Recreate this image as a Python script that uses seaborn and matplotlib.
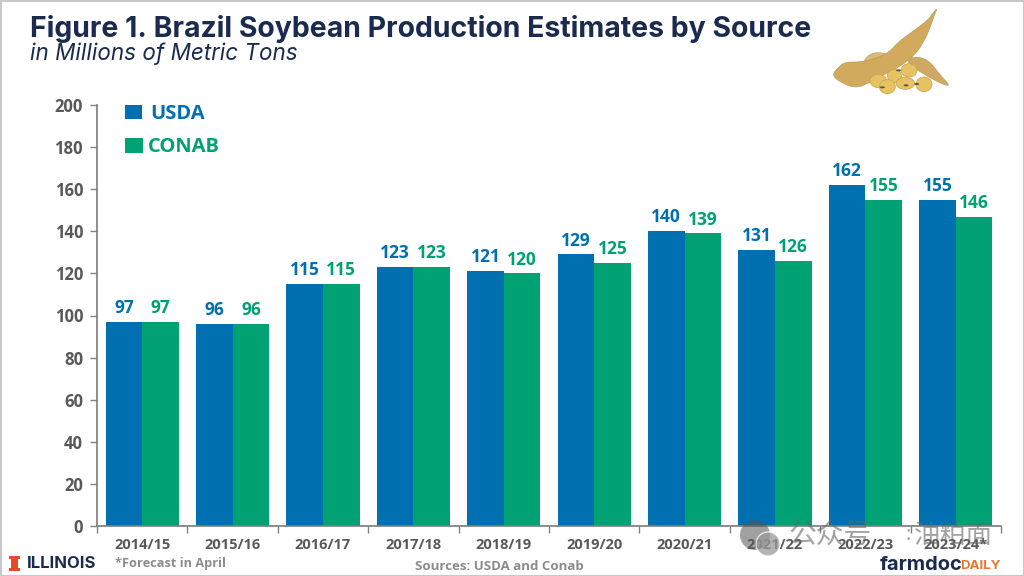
import matplotlib
matplotlib.use("Agg")
import matplotlib.pyplot as plt
from matplotlib.patches import PathPatch, Ellipse, Rectangle, Circle
from matplotlib.path import Path
import pandas as pd
import seaborn as sns

years = ["2014/15", "2015/16", "2016/17", "2017/18", "2018/19",
         "2019/20", "2020/21", "2021/22", "2022/23", "2023/24*"]
usda = [97, 96, 115, 123, 121, 129, 140, 131, 162, 155]
conab = [97, 96, 115, 123, 120, 125, 139, 126, 155, 147]
# printed labels, the last green bar is drawn a bit taller than its label
usda_labels = ["97", "96", "115", "123", "121", "129", "140", "131", "162", "155"]
conab_labels = ["97", "96", "115", "123", "120", "125", "139", "126", "155", "146"]
y_ticks = [0, 20, 40, 60, 80, 100, 120, 140, 160, 180, 200]

BLUE = "#0070b0"
GREEN = "#00a173"
NAVY = "#1a2b4f"
GREY = "#595959"

sns.set_theme(style="white")
plt.rcParams["font.family"] = ["Open Sans", "DejaVu Sans"]

df = pd.DataFrame({
    "year": years * 2,
    "value": usda + conab,
    "source": ["USDA"] * len(years) + ["CONAB"] * len(years),
})

fig = plt.figure(figsize=(10.24, 5.76), dpi=100)
ax = fig.add_axes([97 / 1024, 50 / 576, 904 / 1024, 421 / 576])

sns.barplot(data=df, x="year", y="value", hue="source", palette=[BLUE, GREEN],
            width=0.81, gap=0, saturation=1, legend=False, linewidth=0, ax=ax)

ax.bar_label(ax.containers[0], labels=usda_labels, color=BLUE, fontsize=12.5,
             fontweight="bold", padding=3.5)
ax.bar_label(ax.containers[1], labels=conab_labels, color=GREEN, fontsize=12.5,
             fontweight="bold", padding=3.5)

ax.set_xlim(-0.5, 9.5)
ax.set_ylim(0, 200)
ax.set_xlabel("")
ax.set_ylabel("")
ax.set_yticks(y_ticks)
ax.set_xticks([i - 0.5 for i in range(11)], [""] * 11)
ax.set_xticks(range(10), years, minor=True)
ax.tick_params(axis="x", which="major", bottom=True, length=5, width=1, color="#808080")
ax.tick_params(axis="x", which="minor", bottom=False, labelsize=10.5, labelcolor=GREY, pad=4.5)
ax.tick_params(axis="y", left=True, length=5, width=1, color="#808080",
               labelsize=12, labelcolor=GREY, pad=5)
for t in ax.get_xticklabels(minor=True) + ax.get_yticklabels():
    t.set_fontweight("bold")
sns.despine(ax=ax)
ax.spines["left"].set_color("#808080")
ax.spines["bottom"].set_color("#808080")

# overlay in pixel coordinates for the slide furniture
over = fig.add_axes([0, 0, 1, 1], zorder=5)
over.set_xlim(0, 1024)
over.set_ylim(576, 0)
over.axis("off")
over.patch.set_alpha(0)

over.add_patch(Rectangle((0.5, 0.5), 1023, 575, fill=False, ec="#c8c8c8", lw=1.5))

over.text(30, 29, "Figure 1. Brazil Soybean Production Estimates by Source", fontsize=20.45,
          fontweight="bold", color=NAVY, family="Inter", va="center")
over.text(30, 54, "in Millions of Metric Tons", fontsize=16.2, style="italic",
          color=NAVY, family="Inter", va="center")

# legend
over.add_patch(Rectangle((125, 105), 17, 14, color=BLUE, lw=0))
over.text(150, 114, "USDA", color=BLUE, fontsize=14.5, fontweight="bold", va="center")
over.add_patch(Rectangle((125, 138), 18, 15, color=GREEN, lw=0))
over.text(148, 147, "CONAB", color=GREEN, fontsize=14.5, fontweight="bold", va="center")

def zx(x):
    return 800 + x / 3

def zy(y):
    return y / 3

def pod(points, color, z=6):
    pts = [(zx(x), zy(y)) for x, y in points]
    n = len(pts)
    mids = [((pts[i][0] + pts[(i + 1) % n][0]) / 2, (pts[i][1] + pts[(i + 1) % n][1]) / 2)
            for i in range(n)]
    verts = [mids[-1]]
    codes = [Path.MOVETO]
    for i in range(n):
        verts += [pts[i], mids[i]]
        codes += [Path.CURVE3, Path.CURVE3]
    over.add_patch(PathPatch(Path(verts, codes), fc=color, ec="#b8924a", lw=0.4, zorder=z))

pod([(335, 168), (385, 178), (420, 225), (455, 262), (410, 245), (360, 215), (320, 190)], "#cfa863")
pod([(185, 190), (212, 158), (255, 158), (272, 178), (210, 198)], "#dcbb78")
pod([(414, 22), (396, 42), (385, 60), (330, 100), (290, 130), (270, 155), (230, 175), (180, 187),
     (135, 185), (112, 205), (95, 227), (130, 252), (170, 264), (205, 250), (250, 225),
     (300, 200), (345, 165), (375, 120), (395, 70), (404, 42)], "#d2aa5e", 7)
beans = [(283, 228, 42, 40), (327, 211, 48, 40), (235, 243, 50, 40),
         (262, 260, 48, 42), (316, 250, 56, 36), (372, 253, 48, 44)]
for bx, by, bw, bh in beans:
    over.add_patch(Ellipse((zx(bx), zy(by)), bw / 3, bh / 3, fc="#e6c262",
                           ec="#c9a047", lw=0.5, zorder=8))
for bx, by in [(247, 262), (318, 256), (350, 252), (296, 211)]:
    over.add_patch(Ellipse((zx(bx), zy(by)), 5, 2, fc="#5a5245", lw=0, zorder=8.5))

# footer
over.add_patch(Rectangle((11, 557), 7, 14, color="#e84a27", lw=0))
over.add_patch(Rectangle((9, 556), 11, 3, color="#e84a27", lw=0))
over.add_patch(Rectangle((9, 568), 11, 3, color="#e84a27", lw=0))
over.text(27, 563.5, "ILLINOIS", color=NAVY, fontsize=12, fontweight="bold",
          family="Inter", va="center")
over.text(115, 563, "*Forecast in April", color="#8c8c8c", fontsize=9.2,
          fontweight="bold", va="center")
over.text(499, 567, "Sources: USDA and Conab", color="#8c8c8c", fontsize=9.5,
          fontweight="bold", ha="center", va="center")
over.text(880, 565, "farmdoc", color=NAVY, fontsize=14.5, fontweight="bold",
          family="Inter", va="center")
over.text(960, 566, "DAILY", color="#e8772e", fontsize=9.5, fontweight="bold",
          family="Inter", va="center")

# watermark
over.add_patch(Circle((755, 535), 15, fc="#555555", alpha=0.55, lw=0, zorder=9))
over.add_patch(Circle((768, 544), 12, fc="#9a9a9a", alpha=0.75, ec="white", lw=1, zorder=9))
over.text(789, 535, "公众号", family=["Noto Sans CJK SC"], fontsize=20, color="#666666",
          alpha=0.6, va="center", zorder=9)
over.text(908, 535, ":", family=["Noto Sans CJK SC"], fontsize=14, color="#666666",
          alpha=0.6, ha="center", va="center", zorder=9)
over.text(914, 535, "油粕面", family=["Noto Sans CJK SC"], fontsize=19, color="#666666",
          alpha=0.6, va="center", zorder=9)

fig.savefig("out.png", dpi=100)
